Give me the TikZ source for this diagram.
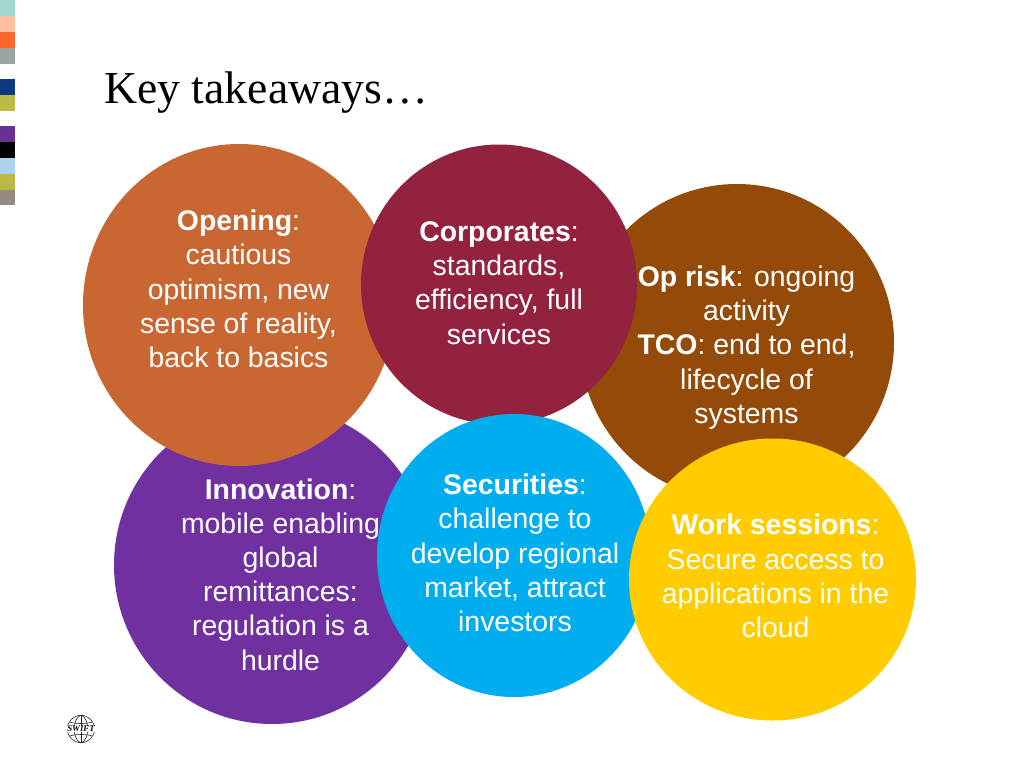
\documentclass[tikz,border=0pt]{standalone}
\usepackage{fontspec}
\setmainfont{Liberation Sans}
\newfontfamily\serifface{Liberation Serif}
\usetikzlibrary{shapes.geometric}
\definecolor{cOpen}{HTML}{C96733}
\definecolor{cCorp}{HTML}{93223F}
\definecolor{cRisk}{HTML}{944A08}
\definecolor{cInno}{HTML}{7030A0}
\definecolor{cSec}{HTML}{00AEEF}
\definecolor{cWork}{HTML}{FFCC00}
\definecolor{sA}{HTML}{9FD8D0}
\definecolor{sB}{HTML}{FFBE9C}
\definecolor{sC}{HTML}{F9672A}
\definecolor{sD}{HTML}{9AA5A5}
\definecolor{sE}{HTML}{0B3A82}
\definecolor{sF}{HTML}{BDBB45}
\definecolor{sG}{HTML}{6A3096}
\definecolor{sH}{HTML}{000000}
\definecolor{sI}{HTML}{A9D3F0}
\definecolor{sJ}{HTML}{BDB845}
\definecolor{sK}{HTML}{958B85}
\tikzset{
  x=0.75pt,y=-0.75pt,
  bubble/.style={ellipse,inner sep=0pt,outer sep=0pt,draw=none},
  bubbletext/.style={text=white,align=center,inner sep=0pt,font=\fontsize{21.3}{25.65}\selectfont},
  stripbox/.style={inner sep=0pt,outer sep=0pt,draw=none,minimum width=11.25pt,anchor=north west},
}
\newcommand{\stripe}[3]{\node[stripbox,minimum height=#2*0.75pt,fill=#3] (s#1) at (0,#1) {};}
\newcommand{\bubbleat}[6]{\node[bubble,fill=#6,minimum width=#4*1.5pt,minimum height=#5*1.5pt] (#1) at (#2,#3) {};}
\begin{document}
\begin{tikzpicture}
\useasboundingbox (0,0) rectangle (1024,768);
\fill[white] (0,0) rectangle (1024,768);
\stripe{0}{16}{sA}
\stripe{16}{16}{sB}
\stripe{32}{16}{sC}
\stripe{48}{15.5}{sD}
\stripe{79}{15.5}{sE}
\stripe{94.5}{16}{sF}
\stripe{126}{16}{sG}
\stripe{142}{16}{sH}
\stripe{158}{15.5}{sI}
\stripe{173.5}{16}{sJ}
\stripe{189.5}{15.5}{sK}
\node[anchor=base west,inner sep=0pt,font=\serifface\fontsize{34.3}{38}\selectfont] (title) at (104,103) {Key takeaways…};
\bubbleat{inno}{272}{565}{158}{159}{cInno}
\bubbleat{open}{239}{305}{156}{161}{cOpen}
\bubbleat{risk}{737}{342}{157}{158}{cRisk}
\bubbleat{corp}{499}{284.5}{138}{140}{cCorp}
\bubbleat{secu}{514}{555.5}{137}{141.5}{cSec}
\bubbleat{work}{772.5}{579.5}{143.5}{141}{cWork}
\node[bubbletext] (topen) at (238.5,289) {\textbf{Opening}:\\cautious\\optimism, new\\sense of reality,\\back to basics};
\node[bubbletext] (tcorp) at (499,283) {\textbf{Corporates}:\\standards,\\efficiency, full\\services};
\node[bubbletext] (trisk) at (746.5,347.5) {\textbf{Op risk}: ongoing\\activity\\\textbf{TCO}: end to end,\\lifecycle of\\systems};
\node[bubbletext] (tinno) at (280.5,574.5) {\textbf{Innovation}:\\mobile enabling\\global\\remittances:\\regulation is a\\hurdle};
\node[bubbletext] (tsecu) at (515,553) {\textbf{Securities}:\\challenge to\\develop regional\\market, attract\\investors};
\node[bubbletext] (twork) at (775.5,576) {\textbf{Work sessions}:\\Secure access to\\applications in the\\cloud};
% SWIFT globe
\begin{scope}[line width=0.45pt,black!85]
\node[circle,draw,inner sep=0pt,minimum size=20.5pt] (globe) at (81,729) {};
\draw (globe.north) .. controls (72,718) and (72,740) .. (globe.south);
\draw (globe.north) .. controls (90,718) and (90,740) .. (globe.south);
\draw (globe.north) -- (globe.south);
\draw (70,722) .. controls (75,724) and (87,724) .. (92,722);
\draw (70,736) .. controls (75,734) and (87,734) .. (92,736);
\end{scope}
\node[fill=white,inner sep=0.3pt,font=\serifface\bfseries\itshape\fontsize{6.6}{7}\selectfont,text=black] (swift) at (81,729) {SWIFT};
\end{tikzpicture}
\end{document}
